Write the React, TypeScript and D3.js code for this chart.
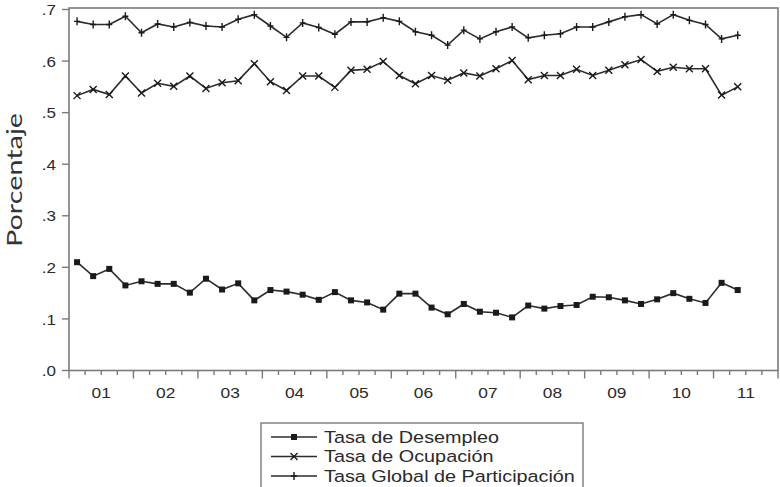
import React from "react";
import * as d3 from "d3";

const years = ["01", "02", "03", "04", "05", "06", "07", "08", "09", "10", "11"];

const desempleo = [
  0.210, 0.183, 0.197, 0.165, 0.173, 0.168, 0.168, 0.151, 0.178, 0.157, 0.169,
  0.136, 0.156, 0.153, 0.147, 0.137, 0.152, 0.136, 0.132, 0.118, 0.149, 0.149,
  0.122, 0.109, 0.129, 0.114, 0.112, 0.103, 0.126, 0.120, 0.125, 0.127, 0.143,
  0.142, 0.136, 0.129, 0.138, 0.150, 0.139, 0.131, 0.170, 0.156,
];

const ocupacion = [
  0.533, 0.545, 0.535, 0.571, 0.538, 0.557, 0.551, 0.571, 0.547, 0.558, 0.562,
  0.595, 0.560, 0.543, 0.571, 0.571, 0.549, 0.582, 0.584, 0.599, 0.572, 0.556,
  0.572, 0.563, 0.577, 0.571, 0.585, 0.601, 0.564, 0.572, 0.572, 0.584, 0.572,
  0.582, 0.593, 0.603, 0.580, 0.588, 0.585, 0.585, 0.534, 0.550,
];

const participacion = [
  0.677, 0.671, 0.671, 0.687, 0.655, 0.672, 0.666, 0.675, 0.668, 0.666, 0.681,
  0.690, 0.668, 0.646, 0.674, 0.665, 0.652, 0.676, 0.676, 0.684, 0.677, 0.657,
  0.650, 0.631, 0.660, 0.643, 0.657, 0.666, 0.645, 0.650, 0.653, 0.666, 0.666,
  0.676, 0.686, 0.690, 0.672, 0.690, 0.679, 0.671, 0.643, 0.650,
];

const yTicks = [0, 0.1, 0.2, 0.3, 0.4, 0.5, 0.6, 0.7];
const seriesNames = ["Tasa de Desempleo", "Tasa de Ocupación", "Tasa Global de Participación"];

const W = 780;
const H = 487;
const left = 69;
const right = 778;
const top = 8;
const bottom = 370.5;

const lineColor = "#2b2b2b";
const axisColor = "#7a7a7a";
const textColor = "#2a2a2a";
const font = "'Liberation Sans', Arial, sans-serif";

function Marker({ type, x, y }: { type: number; x: number; y: number }) {
  if (type === 0) {
    return <rect x={x - 3} y={y - 3} width={6} height={6} fill="#1a1a1a" />;
  }
  if (type === 1) {
    const s = 3.5;
    return (
      <path
        d={`M${x - s},${y - s}L${x + s},${y + s}M${x - s},${y + s}L${x + s},${y - s}`}
        stroke="#1a1a1a"
        strokeWidth={1.4}
      />
    );
  }
  return (
    <path
      d={`M${x},${y - 4}L${x},${y + 4}M${x - 3},${y}L${x + 3},${y}`}
      stroke="#1a1a1a"
      strokeWidth={1.4}
    />
  );
}

export default function App() {
  const nSlots = years.length * 4;
  const x = d3.scaleLinear().domain([0, nSlots]).range([left, right]);
  const y = d3.scaleLinear().domain([0, 0.7]).range([bottom, 9.5]);
  const all = [desempleo, ocupacion, participacion];
  const line = d3
    .line<number>()
    .x((_, i) => x(i + 0.5))
    .y((d) => y(d));

  const fmt = (v: number) => d3.format(".1f")(v).replace(/^0/, "");

  return (
    <svg
      width={W}
      height={H}
      style={{ position: "absolute", left: 0, top: 0, background: "#fff" }}
    >
      <rect x={0} y={0} width={W} height={H} fill="#fff" />
      {/* frame */}
      <rect
        x={left}
        y={top}
        width={right - left}
        height={bottom - top}
        fill="none"
        stroke={axisColor}
        strokeWidth={1.6}
      />
      {/* y ticks */}
      {yTicks.map((t) => (
        <g key={t}>
          <line x1={left - 7} x2={left} y1={y(t)} y2={y(t)} stroke={axisColor} strokeWidth={1.4} />
          <text
            transform={`translate(56,${y(t)}) scale(1.1,1)`}
            dy="0.36em"
            textAnchor="end"
            fontFamily={font}
            fontSize={15.5}
            fill={textColor}
          >
            {fmt(t)}
          </text>
        </g>
      ))}
      {/* x ticks */}
      {d3.range(0, nSlots + 1).map((i) => (
        <line
          key={i}
          x1={x(i)}
          x2={x(i)}
          y1={bottom}
          y2={bottom + (i % 4 === 0 ? 8 : 4.5)}
          stroke={axisColor}
          strokeWidth={1.4}
        />
      ))}
      {years.map((yr, k) => (
        <text
          key={yr}
          transform={`translate(${x(k * 4 + 2)},392) scale(1.12,1)`}
          dy="0.36em"
          textAnchor="middle"
          fontFamily={font}
          fontSize={15.5}
          fill={textColor}
        >
          {yr}
        </text>
      ))}
      {/* y label */}
      <text
        transform="translate(22,180) rotate(-90)"
        textAnchor="middle"
        fontFamily="Lato, 'Open Sans', sans-serif"
        fontSize={22}
        textLength={134}
        lengthAdjust="spacingAndGlyphs"
        fill="#333"
      >
        Porcentaje
      </text>
      {/* series */}
      {all.map((s, si) => (
        <g key={si}>
          <path d={line(s) || ""} fill="none" stroke={lineColor} strokeWidth={1.6} />
          {s.map((v, i) => (
            <Marker key={i} type={si} x={x(i + 0.5)} y={y(v)} />
          ))}
        </g>
      ))}
      {/* legend */}
      <rect x={261} y={423} width={322} height={70} fill="#fff" stroke={axisColor} strokeWidth={1.4} />
      {seriesNames.map((n, i) => {
        const ly = 437 + i * 19.5;
        return (
          <g key={n}>
            <line x1={271} x2={317} y1={ly} y2={ly} stroke={lineColor} strokeWidth={1.4} />
            <Marker type={i} x={294} y={ly} />
            <text
              transform={`translate(324,${ly}) scale(1.2,1)`}
              dy="0.36em"
              fontFamily={font}
              fontSize={16.5}
              fill={textColor}
            >
              {n}
            </text>
          </g>
        );
      })}
    </svg>
  );
}
